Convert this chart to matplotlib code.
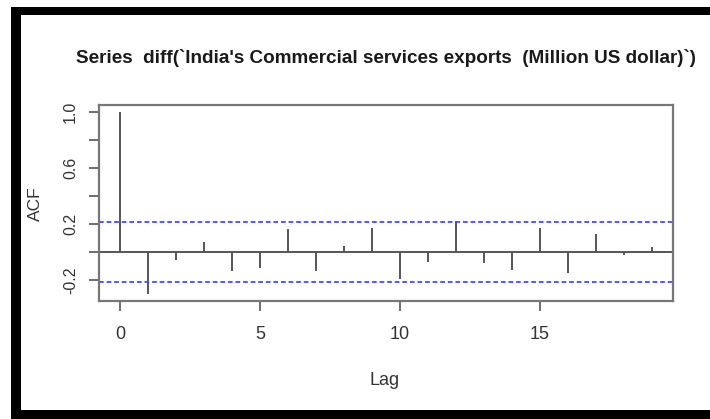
import numpy as np
import matplotlib
matplotlib.use("Agg")
import matplotlib.pyplot as plt
from matplotlib.patches import Rectangle

# ACF of the differenced series
lags = np.arange(0, 20)
acf_vals = [1.0, -0.295, -0.055, 0.077, -0.134, -0.11, 0.165, -0.134, 0.045, 0.177,
            -0.19, -0.072, 0.227, -0.079, -0.127, 0.177, -0.15, 0.129, -0.02, 0.04]
conf_lim = 0.214
x_ticks = [0, 5, 10, 15]
y_ticks = [-0.2, 0.0, 0.2, 0.4, 0.6, 0.8, 1.0]
y_ticklabels = ["-0.2", "", "0.2", "", "0.6", "", "1.0"]
title = "Series  diff(`India's Commercial services exports  (Million US dollar)`)"

W, H = 710, 419
narrow = ["Liberation Sans Narrow", "Liberation Sans", "DejaVu Sans"]
regular = ["Liberation Sans", "DejaVu Sans"]
gray = "#555555"

fig = plt.figure(figsize=(W / 100, H / 100), dpi=100)
fig.patch.set_facecolor("white")

# screenshot frame
for (x0, y0, x1, y1) in [(11, 7, 710, 15), (11, 7, 21, 419), (11, 410, 710, 419)]:
    fig.add_artist(Rectangle((x0 / W, 1 - y1 / H), (x1 - x0) / W, (y1 - y0) / H,
                             transform=fig.transFigure, color="black", lw=0))

ax = fig.add_axes([99 / W, 1 - 301 / H, (673 - 99) / W, (301 - 105) / H])
ax.vlines(lags, 0, acf_vals, color=gray, lw=1.4)
ax.axhline(0, color=gray, lw=1.4)
for c in (conf_lim, -conf_lim):
    ax.axhline(c, color="#4b4bf5", lw=1.3, linestyle=(0, (2.6, 1.6)))

ax.set_xlim(-0.76, 19.76)
ax.set_ylim(-0.347, 1.052)
ax.set_xticks(x_ticks)
ax.set_xticklabels([str(t) for t in x_ticks], family=narrow, fontsize=13, color="#333333")
ax.set_yticks(y_ticks)
ax.set_yticklabels(y_ticklabels, family=regular, fontsize=11.5, color="#333333",
                   rotation=90, va="center")
ax.tick_params(axis="both", length=7, width=1.2, color=gray)
ax.tick_params(axis="x", pad=11)
ax.tick_params(axis="y", pad=8)
for s in ax.spines.values():
    s.set_color("#777777")
    s.set_linewidth(1.6)

fig.text(385 / W, 1 - 380 / H, "Lag", ha="center", va="center",
         family=narrow, fontsize=13, color="#333333")
fig.text(35 / W, 1 - 204 / H, "ACF", ha="center", va="center", rotation=90,
         family=regular, fontsize=12.5, color="#333333")
fig.text(386 / W, 1 - 63 / H, title, ha="center", va="baseline",
         family=narrow, fontsize=13.6, fontweight="bold", color="#1a1a1a")

fig.savefig("out.png", dpi=100)
